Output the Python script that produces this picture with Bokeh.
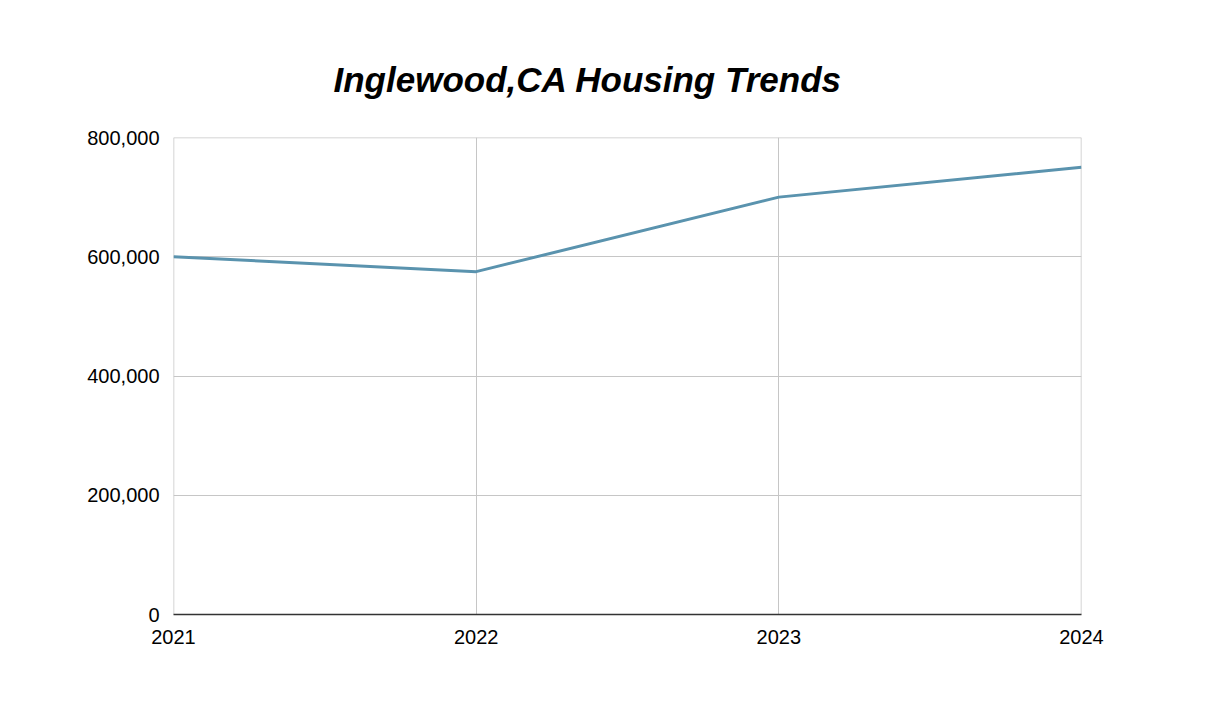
from bokeh.plotting import figure
from bokeh.models import Range1d, NumeralTickFormatter, FixedTicker, Span
from bokeh.embed import file_html
from bokeh.resources import INLINE

years = [2021, 2022, 2023, 2024]
prices = [600000, 575000, 700000, 750000]
y_ticks = [0, 200000, 400000, 600000, 800000]

FONT = "Liberation Sans"

p = figure(width=1210, height=707, output_backend="svg", toolbar_location=None,
           x_range=Range1d(2021, 2024), y_range=Range1d(0, 800000),
           min_border_left=173, min_border_right=129, min_border_top=137, min_border_bottom=93)
p.outline_line_color = None
p.background_fill_color = "white"
p.border_fill_color = "white"

p.title.text = "Inglewood,CA Housing Trends"
p.title.text_font = FONT
p.title.text_font_size = "35px"
p.title.text_font_style = "bold italic"
p.title.text_color = "black"
p.title.align = "left"
p.title.offset = 160
p.title.standoff = 77

p.xaxis.ticker = FixedTicker(ticks=years)
p.yaxis.ticker = FixedTicker(ticks=y_ticks)
p.yaxis.formatter = NumeralTickFormatter(format="0,0")

for ax in (p.xaxis[0], p.yaxis[0]):
    ax.major_tick_line_color = None
    ax.minor_tick_line_color = None
    ax.major_label_text_font = FONT
    ax.major_label_text_font_size = "20px"
    ax.major_label_text_color = "black"
p.xaxis.axis_line_color = "#333333"
p.xaxis.axis_line_width = 1.5
p.yaxis.axis_line_color = None
p.xaxis.major_label_standoff = 9
p.yaxis.major_label_standoff = 8

p.xgrid.grid_line_color = "#c6c6c6"
p.ygrid.grid_line_color = "#c6c6c6"
p.xgrid.ticker = FixedTicker(ticks=years)
p.ygrid.ticker = FixedTicker(ticks=y_ticks)

# boundary grid lines (Bokeh omits grid lines at range edges)
for yr in (years[0], years[-1]):
    p.add_layout(Span(location=yr, dimension="height", line_color="#c6c6c6", line_width=1.5, level="underlay"))
p.add_layout(Span(location=y_ticks[-1], dimension="width", line_color="#c6c6c6", line_width=1.5, level="underlay"))

p.line(years, prices, line_color="#5a93ae", line_width=3)

open("out.html", "w").write(file_html(p, INLINE))
